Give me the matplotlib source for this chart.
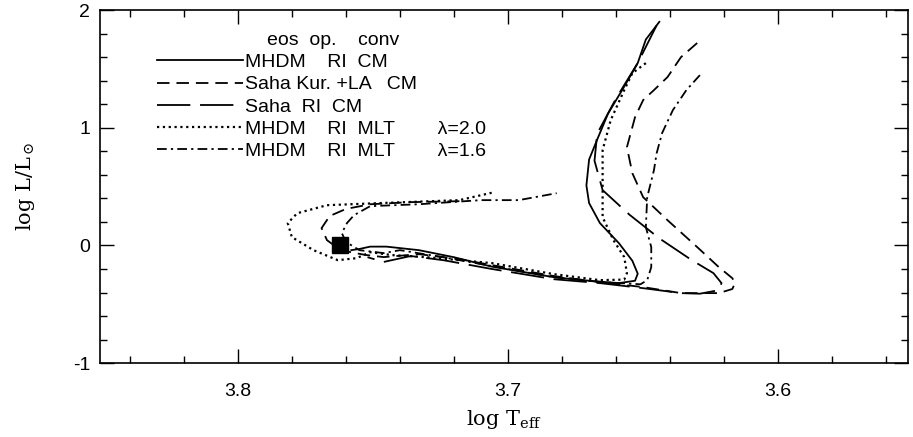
import matplotlib
matplotlib.use('Agg')
import matplotlib.pyplot as plt
from matplotlib.ticker import MultipleLocator

plt.rcParams['font.family'] = ['Liberation Sans', 'DejaVu Sans']
plt.rcParams['axes.unicode_minus'] = False
plt.rcParams['lines.scale_dashes'] = False
plt.rcParams['mathtext.fontset'] = 'dejavuserif'

# ---- track data (log Teff, log L/Lsun) ----
mhdm_ri_cm_x = [3.644, 3.649, 3.652, 3.657, 3.663, 3.667, 3.670, 3.671, 3.670, 3.666, 3.659,
                3.654, 3.652, 3.653, 3.659, 3.670, 3.683, 3.706, 3.720, 3.733, 3.745, 3.751,
                3.755, 3.758]
mhdm_ri_cm_y = [1.90, 1.75, 1.55, 1.35, 1.12, 0.90, 0.73, 0.51, 0.36, 0.19, 0.02,
                -0.13, -0.24, -0.30, -0.32, -0.30, -0.27, -0.18, -0.10, -0.04, -0.01, -0.01,
                -0.03, -0.04]

saha_kur_cm_x = [3.630, 3.636, 3.641, 3.646, 3.650, 3.653, 3.656, 3.654, 3.650, 3.641, 3.630,
                 3.622, 3.617, 3.616, 3.617, 3.622, 3.636, 3.650, 3.666, 3.683, 3.706, 3.718,
                 3.733, 3.746, 3.753, 3.762, 3.767, 3.769, 3.766, 3.760, 3.751, 3.736, 3.718]
saha_kur_cm_y = [1.72, 1.60, 1.43, 1.32, 1.235, 1.09, 0.835, 0.614, 0.41, 0.215, -0.014,
                 -0.184, -0.278, -0.32, -0.37, -0.405, -0.405, -0.354, -0.312, -0.26, -0.167, -0.116,
                 -0.074, -0.099, -0.08, -0.04, 0.045, 0.147, 0.25, 0.31, 0.35, 0.368, 0.376]

saha_ri_cm_x = [3.645, 3.652, 3.660, 3.667, 3.668, 3.665, 3.655, 3.644, 3.632, 3.624, 3.621,
                3.622, 3.629, 3.636, 3.650, 3.666, 3.683, 3.706, 3.724, 3.736, 3.746, 3.752]
saha_ri_cm_y = [1.87, 1.55, 1.25, 0.95, 0.72, 0.47, 0.26, 0.06, -0.125, -0.235, -0.32,
                -0.38, -0.41, -0.405, -0.363, -0.32, -0.287, -0.20, -0.125, -0.09, -0.14, -0.10]

mlt_20_x = [3.649, 3.654, 3.657, 3.662, 3.665, 3.665, 3.665, 3.661, 3.657, 3.656, 3.657,
            3.666, 3.683, 3.706, 3.730, 3.743, 3.751, 3.756, 3.763, 3.772, 3.780, 3.7815,
            3.778, 3.767, 3.7485, 3.718, 3.705]
mlt_20_y = [1.549, 1.464, 1.32, 1.065, 0.81, 0.53, 0.24, 0.045, -0.099, -0.235, -0.29,
            -0.295, -0.244, -0.15, -0.10, -0.082, -0.057, -0.108, -0.125, -0.04, 0.071, 0.19,
            0.274, 0.342, 0.359, 0.385, 0.453]

mlt_16_x = [3.629, 3.634, 3.639, 3.643, 3.645, 3.646, 3.6485, 3.649, 3.647, 3.647, 3.6485,
            3.651, 3.666, 3.683, 3.706, 3.724, 3.740, 3.746, 3.755, 3.760, 3.7615, 3.7596,
            3.757, 3.751, 3.733, 3.710, 3.696, 3.682]
mlt_16_y = [1.447, 1.32, 1.15, 0.954, 0.784, 0.64, 0.41, 0.156, -0.014, -0.184, -0.295,
            -0.33, -0.31, -0.27, -0.175, -0.10, -0.04, -0.065, -0.04, 0.03, 0.105, 0.19,
            0.257, 0.334, 0.35, 0.385, 0.385, 0.444]

sun_x = [3.762]
sun_y = [0.0]

header = 'eos  op.    conv'
labels = ['MHDM    RI  CM',
          'Saha Kur. +LA   CM',
          'Saha  RI  CM',
          'MHDM    RI  MLT        \u03bb=2.0',
          'MHDM    RI  MLT        \u03bb=1.6']

fig = plt.figure(figsize=(9.13, 4.37), dpi=100)
ax = fig.add_axes([0.1095, 0.169, 0.885, 0.808])

lw = 1.3
ax.plot(mhdm_ri_cm_x, mhdm_ri_cm_y, color='black', lw=lw, ls='-', label=labels[0])
ax.plot(saha_kur_cm_x, saha_kur_cm_y, color='black', lw=lw, ls=(0, (9, 5)), label=labels[1])
ax.plot(saha_ri_cm_x, saha_ri_cm_y, color='black', lw=lw, ls=(0, (24, 7)), label=labels[2])
ax.plot(mlt_20_x, mlt_20_y, color='black', lw=1.6, ls=(0, (1.6, 2.6)), label=labels[3])
ax.plot(mlt_16_x, mlt_16_y, color='black', lw=lw, ls=(0, (7, 3, 1.6, 3)), label=labels[4])
ax.plot(sun_x, sun_y, 's', color='black', ms=11)

ax.set_xlim(3.851, 3.552)
ax.set_ylim(-1, 2)
ax.xaxis.set_major_locator(MultipleLocator(0.1))
ax.xaxis.set_minor_locator(MultipleLocator(0.02))
ax.yaxis.set_major_locator(MultipleLocator(1))
ax.yaxis.set_minor_locator(MultipleLocator(0.2))
ax.set_yticks([-1, 0, 1, 2])
ax.set_yticklabels(['-1', '0', '1', '2'])
ax.tick_params(which='both', direction='in', top=True, right=True, width=1)
ax.tick_params(which='major', length=10, labelsize=14)
ax.tick_params(axis='x', which='major', pad=14)
ax.tick_params(axis='y', which='major', pad=7)
ax.tick_params(which='minor', length=5)
for s in ax.spines.values():
    s.set_linewidth(1.2)

ax.set_xlabel(r'log T$_{\rm eff}$', family='DejaVu Serif', fontsize=15, labelpad=6)
ax.set_ylabel(r'log L/L$_\odot$', family='DejaVu Serif', fontsize=15, labelpad=26)

leg = ax.legend(loc='upper left', bbox_to_anchor=(0.071, 0.877), frameon=False,
                fontsize=14, handlelength=4.4, handletextpad=0.1, labelspacing=0.24,
                borderaxespad=0, borderpad=0)
ax.text(0.2067, 0.915, header, transform=ax.transAxes, fontsize=14,
        ha='left', va='center')

fig.savefig('out.png', dpi=100)
